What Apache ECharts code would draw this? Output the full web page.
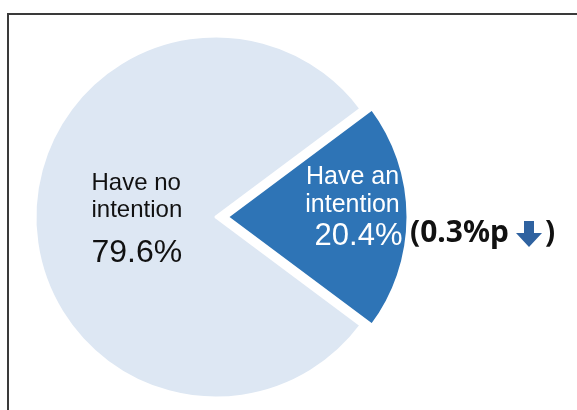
<!DOCTYPE html>
<html>
<head>
<meta charset="utf-8">
<script src="https://cdn.jsdelivr.net/npm/echarts@6/dist/echarts.min.js"></script>
<style>
html,body{margin:0;padding:0;background:#fff;}
#chart{width:577px;height:410px;}
</style>
</head>
<body>
<div id="chart"></div>
<script>
const categories = ['Have an intention', 'Have no intention'];
const categoryLines = [['Have an', 'intention'], ['Have no', 'intention']];
const values = [20.4, 79.6];
const valueLabels = ['20.4%', '79.6%'];
const changeNote = '(0.3%p';
const changeClose = ')';

const total = values.reduce((a, b) => a + b, 0);
const startAngle = values[0] / total * 360 / 2;

const chart = echarts.init(document.getElementById('chart'), null, {renderer: 'canvas'});

const noteStyle = {fontFamily: 'Noto Sans', fontWeight: 'bold', fontSize: 30, fill: '#111111'};

const smallLabel = {
  show: true,
  position: 'inside',
  offset: [35, -9],
  overflow: 'none',
  formatter: '{n|' + categoryLines[0][0] + '}\n{n|' + categoryLines[0][1] + '}\n{v|' + valueLabels[0] + '}',
  rich: {
    n: {fontFamily: 'Liberation Sans', fontSize: 25, color: '#ffffff', lineHeight: 28},
    v: {fontFamily: 'Liberation Sans', fontSize: 31, color: '#ffffff', lineHeight: 34, padding: [0, 0, 0, 12]}
  }
};

const option = {
  animation: false,
  backgroundColor: '#ffffff',
  graphic: [
    {
      type: 'rect',
      z: -10,
      shape: {x: 8, y: 14, width: 640, height: 440},
      style: {fill: 'none', stroke: '#3a3a3a', lineWidth: 2}
    },
    {
      type: 'text',
      z: 100,
      x: 410,
      y: 233,
      style: Object.assign({text: changeNote, textVerticalAlign: 'middle'}, noteStyle)
    },
    {
      type: 'polygon',
      z: 100,
      x: 529,
      y: 221,
      shape: {points: [[-5, 0], [5, 0], [5, 12], [13, 12], [0, 26], [-13, 12], [-5, 12]]},
      style: {fill: '#2f62a0'}
    },
    {
      type: 'text',
      z: 100,
      x: 545,
      y: 233,
      style: Object.assign({text: changeClose, textVerticalAlign: 'middle'}, noteStyle)
    }
  ],
  series: [
    {
      type: 'pie',
      center: [216, 217],
      radius: 181,
      startAngle: startAngle,
      clockwise: true,
      selectedMode: 'single',
      selectedOffset: 11,
      emphasis: {disabled: true},
      labelLine: {show: false},
      itemStyle: {borderColor: '#ffffff', borderWidth: 3},
      data: [
        {
          name: categories[0],
          value: values[0],
          selected: true,
          itemStyle: {color: '#2e74b6'},
          label: smallLabel,
          select: {label: smallLabel, itemStyle: {color: '#2e74b6'}}
        },
        {
          name: categories[1],
          value: values[1],
          itemStyle: {color: '#dde7f3'},
          label: {
            show: true,
            position: 'inside',
            offset: [19, 9],
            formatter: '{n|' + categoryLines[1][0] + '}\n{n|' + categoryLines[1][1] + '}\n{v|' + valueLabels[1] + '}',
            rich: {
              n: {fontFamily: 'Liberation Sans', fontSize: 24, color: '#111111', lineHeight: 27, width: 100, align: 'left'},
              v: {fontFamily: 'Liberation Sans', fontSize: 32, color: '#111111', lineHeight: 58, width: 100, align: 'left'}
            }
          }
        }
      ]
    }
  ]
};
chart.setOption(option);
</script>
</body>
</html>
